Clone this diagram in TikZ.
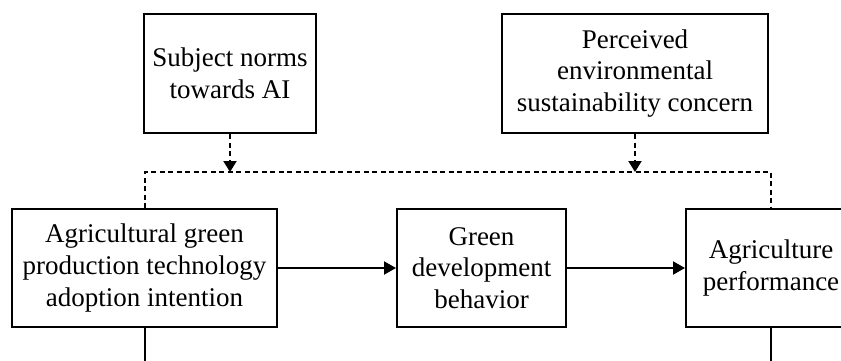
\documentclass[tikz,border=0pt]{standalone}
\usepackage{fontspec}
\setmainfont{Liberation Serif}
\usetikzlibrary{arrows.meta, positioning}
\tikzstyle{factor} = [rectangle, draw=black, line width=2pt, align=center, inner sep=0pt, minimum height=118pt]
\tikzstyle{arrow} = [line width=2pt,->,>={Triangle[length=12pt,width=13pt]}]
\tikzstyle{modline} = [line width=2pt, dash pattern=on 5pt off 3.5pt]
\tikzstyle{modarrow} = [modline,->,>={Triangle[length=11pt,width=13pt]}]

\begin{document}
\begin{tikzpicture}[node distance=118pt, every node/.style={font=\fontsize{27}{31.7}\selectfont}]
\useasboundingbox (0,0) rectangle (841pt,-360pt);
\clip (0,0) rectangle (841pt,-360pt);

% bottom row
\node (intent) [factor, minimum width=265pt] at (144.5pt,-268pt) {Agricultural green\\production technology\\adoption intention};
\node (behav) [factor, minimum width=169pt, right=of intent] {Green\\development\\behavior};
\node (perf) [factor, minimum width=170pt, right=of behav] {Agriculture\\performance};

% moderators
\node (norms) [factor, minimum width=172pt, minimum height=119pt] at (230pt,-73.5pt) {Subject norms\\towards AI};
\node (envir) [factor, minimum width=266pt, minimum height=119pt] at (635pt,-73.5pt) {Perceived\\environmental\\sustainability concern};

\coordinate (modl) at ([yshift=36pt]intent.north);
\coordinate (intentout) at ([yshift=-40pt]intent.south);
\coordinate (perfout) at ([yshift=-40pt]perf.south);

\draw [arrow] (intent) -- (behav);
\draw [arrow] (behav) -- (perf);
\draw [modline] (intent.north) -- (modl) -| (perf.north);
\draw [modarrow] (norms.south) -- (norms.south |- modl);
\draw [modarrow] (envir.south) -- (envir.south |- modl);
\draw [line width=2pt] (intent.south) -- (intentout);
\draw [line width=2pt] (perf.south) -- (perfout);

\end{tikzpicture}
\end{document}
